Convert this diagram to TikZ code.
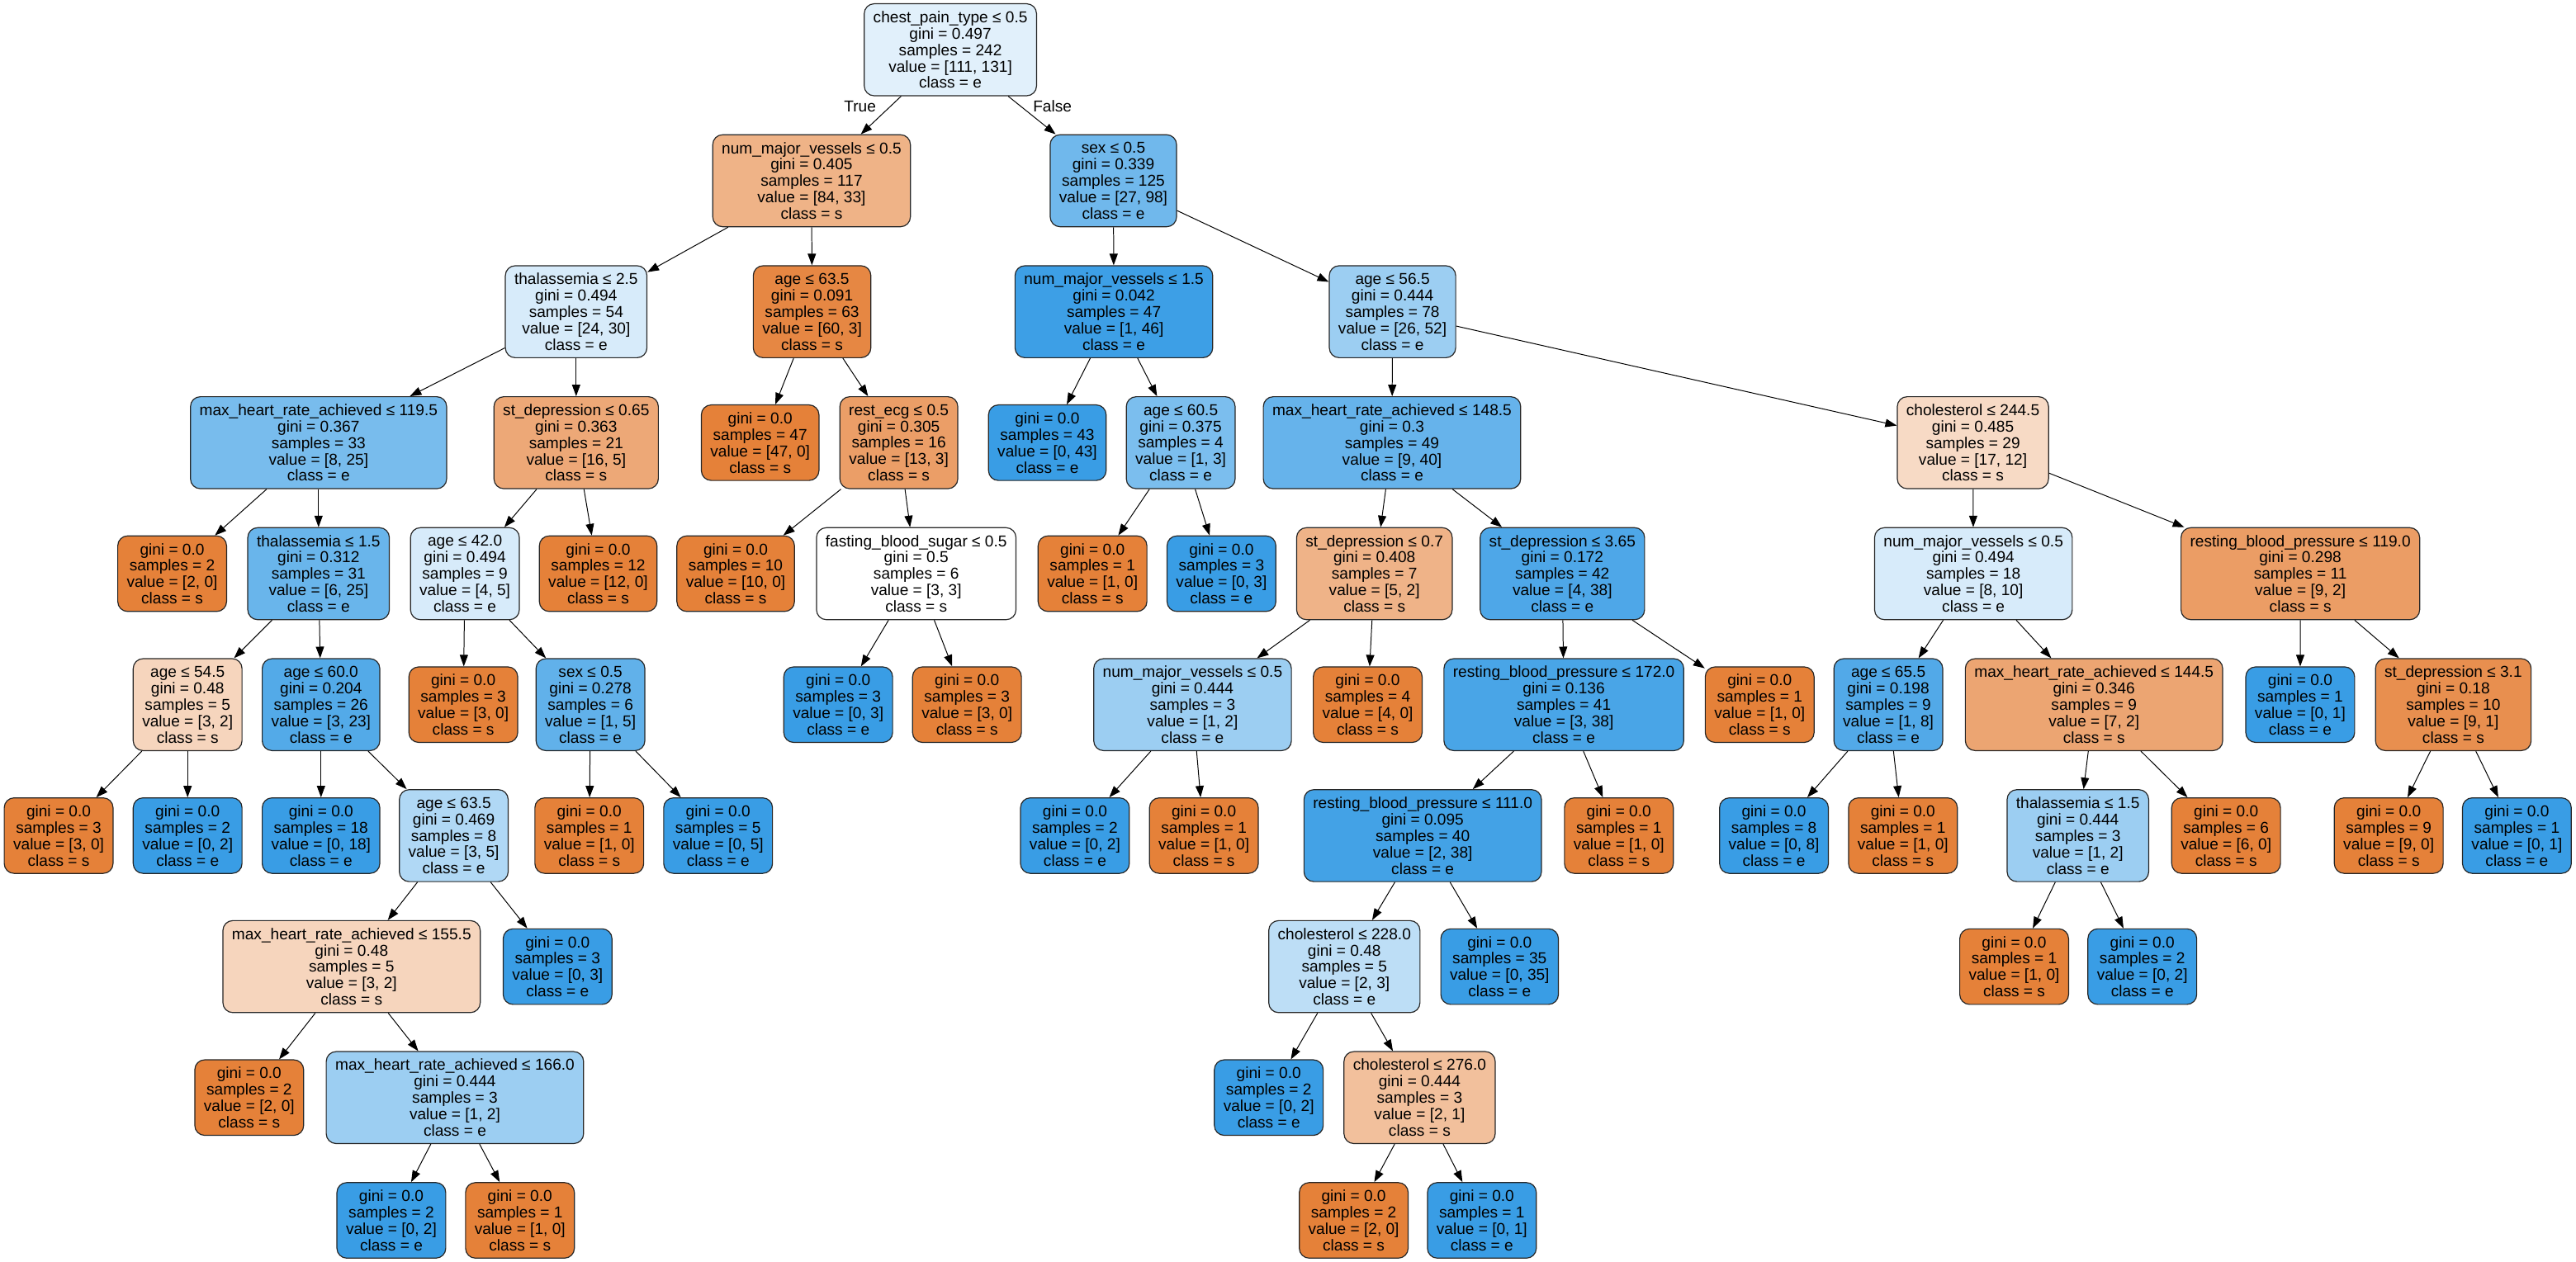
\documentclass[tikz,border=0pt]{standalone}
\usepackage{fontspec}
\setmainfont{Liberation Sans}
\usepackage{tikz}
\usetikzlibrary{arrows.meta}
\definecolor{sclass}{RGB}{229,129,57}
\definecolor{eclass}{RGB}{57,157,229}

\begin{document}
\begin{tikzpicture}[x=1pt, y=-1pt, >={Triangle[length=7pt, width=5pt]},
  every node/.style={font=\fontsize{9.6}{10}\selectfont},
  tree/.style={draw=black!85, line width=0.6pt, rounded corners=6pt, align=center, inner xsep=5.5pt, inner ysep=0pt},
  split/.style={tree, minimum height=56pt},
  leaf/.style={tree, minimum height=46pt, fill=#1class}]
  \useasboundingbox (0,0) rectangle (1568,768.4);

  % Wurzel und Verzweigungen
  \node[split, fill=eclass!15.3] (n1) at (578.5,30.3) {chest\_pain\_type ≤ 0.5\\gini = 0.497\\samples = 242\\value = [111, 131]\\class = e};
  \node[split, fill=sclass!60.7] (n2) at (494,110.05) {num\_major\_vessels ≤ 0.5\\gini = 0.405\\samples = 117\\value = [84, 33]\\class = s};
  \node[split, fill=eclass!72.4] (n3) at (677.7,110.05) {sex ≤ 0.5\\gini = 0.339\\samples = 125\\value = [27, 98]\\class = e};
  \node[split, fill=eclass!20] (n4) at (350.7,189.8) {thalassemia ≤ 2.5\\gini = 0.494\\samples = 54\\value = [24, 30]\\class = e};
  \node[split, fill=sclass!95] (n5) at (494.3,189.8) {age ≤ 63.5\\gini = 0.091\\samples = 63\\value = [60, 3]\\class = s};
  \node[split, fill=eclass!97.8] (n6) at (678,189.8) {num\_major\_vessels ≤ 1.5\\gini = 0.042\\samples = 47\\value = [1, 46]\\class = e};
  \node[split, fill=eclass!50] (n7) at (847.6,189.8) {age ≤ 56.5\\gini = 0.444\\samples = 78\\value = [26, 52]\\class = e};
  \node[split, fill=eclass!68] (n8) at (193.9,269.55) {max\_heart\_rate\_achieved ≤ 119.5\\gini = 0.367\\samples = 33\\value = [8, 25]\\class = e};
  \node[split, fill=sclass!68.8] (n9) at (350.7,269.55) {st\_depression ≤ 0.65\\gini = 0.363\\samples = 21\\value = [16, 5]\\class = s};
  \node[split, fill=sclass!76.9] (n11) at (547.1,269.55) {rest\_ecg ≤ 0.5\\gini = 0.305\\samples = 16\\value = [13, 3]\\class = s};
  \node[split, fill=eclass!66.7] (n13) at (718.7,269.55) {age ≤ 60.5\\gini = 0.375\\samples = 4\\value = [1, 3]\\class = e};
  \node[split, fill=eclass!77.5] (n14) at (847.3,269.55) {max\_heart\_rate\_achieved ≤ 148.5\\gini = 0.3\\samples = 49\\value = [9, 40]\\class = e};
  \node[split, fill=sclass!29.4] (n15) at (1200.9,269.55) {cholesterol ≤ 244.5\\gini = 0.485\\samples = 29\\value = [17, 12]\\class = s};
  \node[split, fill=eclass!76] (n17) at (193.9,349.3) {thalassemia ≤ 1.5\\gini = 0.312\\samples = 31\\value = [6, 25]\\class = e};
  \node[split, fill=eclass!20] (n18) at (283,349.3) {age ≤ 42.0\\gini = 0.494\\samples = 9\\value = [4, 5]\\class = e};
  \node[split, fill=white] (n21) at (557.7,349.3) {fasting\_blood\_sugar ≤ 0.5\\gini = 0.5\\samples = 6\\value = [3, 3]\\class = s};
  \node[split, fill=sclass!60] (n24) at (836.6,349.3) {st\_depression ≤ 0.7\\gini = 0.408\\samples = 7\\value = [5, 2]\\class = s};
  \node[split, fill=eclass!89.5] (n25) at (951,349.3) {st\_depression ≤ 3.65\\gini = 0.172\\samples = 42\\value = [4, 38]\\class = e};
  \node[split, fill=eclass!20] (n26) at (1201.2,349.3) {num\_major\_vessels ≤ 0.5\\gini = 0.494\\samples = 18\\value = [8, 10]\\class = e};
  \node[split, fill=sclass!77.8] (n27) at (1400.2,349.3) {resting\_blood\_pressure ≤ 119.0\\gini = 0.298\\samples = 11\\value = [9, 2]\\class = s};
  \node[split, fill=sclass!33.3] (n28) at (114.2,429.05) {age ≤ 54.5\\gini = 0.48\\samples = 5\\value = [3, 2]\\class = s};
  \node[split, fill=eclass!87] (n29) at (195.4,429.05) {age ≤ 60.0\\gini = 0.204\\samples = 26\\value = [3, 23]\\class = e};
  \node[split, fill=eclass!80] (n31) at (359.4,429.05) {sex ≤ 0.5\\gini = 0.278\\samples = 6\\value = [1, 5]\\class = e};
  \node[split, fill=eclass!50] (n34) at (725.9,429.05) {num\_major\_vessels ≤ 0.5\\gini = 0.444\\samples = 3\\value = [1, 2]\\class = e};
  \node[split, fill=eclass!92.1] (n36) at (951.9,429.05) {resting\_blood\_pressure ≤ 172.0\\gini = 0.136\\samples = 41\\value = [3, 38]\\class = e};
  \node[split, fill=eclass!87.5] (n38) at (1149.4,429.05) {age ≤ 65.5\\gini = 0.198\\samples = 9\\value = [1, 8]\\class = e};
  \node[split, fill=sclass!71.4] (n39) at (1274.6,429.05) {max\_heart\_rate\_achieved ≤ 144.5\\gini = 0.346\\samples = 9\\value = [7, 2]\\class = s};
  \node[split, fill=sclass!88.9] (n41) at (1493.3,429.05) {st\_depression ≤ 3.1\\gini = 0.18\\samples = 10\\value = [9, 1]\\class = s};
  \node[split, fill=eclass!40] (n45) at (276.2,508.8) {age ≤ 63.5\\gini = 0.469\\samples = 8\\value = [3, 5]\\class = e};
  \node[split, fill=eclass!94.7] (n50) at (866,508.8) {resting\_blood\_pressure ≤ 111.0\\gini = 0.095\\samples = 40\\value = [2, 38]\\class = e};
  \node[split, fill=eclass!50] (n54) at (1264.8,508.8) {thalassemia ≤ 1.5\\gini = 0.444\\samples = 3\\value = [1, 2]\\class = e};
  \node[split, fill=sclass!33.3] (n58) at (214,588.55) {max\_heart\_rate\_achieved ≤ 155.5\\gini = 0.48\\samples = 5\\value = [3, 2]\\class = s};
  \node[split, fill=eclass!33.3] (n60) at (818.3,588.55) {cholesterol ≤ 228.0\\gini = 0.48\\samples = 5\\value = [2, 3]\\class = e};
  \node[split, fill=eclass!50] (n65) at (276.9,668.3) {max\_heart\_rate\_achieved ≤ 166.0\\gini = 0.444\\samples = 3\\value = [1, 2]\\class = e};
  \node[split, fill=sclass!50] (n67) at (864.1,668.3) {cholesterol ≤ 276.0\\gini = 0.444\\samples = 3\\value = [2, 1]\\class = s};

  % Blätter
  \foreach \nm/\x/\y/\n/\v/\c in {n10/462.7/269.55/47/{47, 0}/s, n12/637.5/269.55/43/{0, 43}/e,
      n16/104.8/349.3/2/{2, 0}/s, n19/364.1/349.3/12/{12, 0}/s, n20/447.8/349.3/10/{10, 0}/s,
      n22/665/349.3/1/{1, 0}/s, n23/743.5/349.3/3/{0, 3}/e,
      n30/282/429.05/3/{3, 0}/s, n32/510.2/429.05/3/{0, 3}/e, n33/588.6/429.05/3/{3, 0}/s,
      n35/832.5/429.05/4/{4, 0}/s, n37/1071.1/429.05/1/{1, 0}/s, n40/1400.1/429.05/1/{0, 1}/e,
      n42/35.7/508.8/3/{3, 0}/s, n43/114.2/508.8/2/{0, 2}/e, n44/195.4/508.8/18/{0, 18}/e,
      n46/358.7/508.8/1/{1, 0}/s, n47/437.1/508.8/5/{0, 5}/e, n48/654.3/508.8/2/{0, 2}/e,
      n49/732.8/508.8/1/{1, 0}/s, n51/985.4/508.8/1/{1, 0}/s, n52/1079.8/508.8/8/{0, 8}/e,
      n53/1158.3/508.8/1/{1, 0}/s, n55/1355/508.8/6/{6, 0}/s, n56/1454/508.8/9/{9, 0}/s,
      n57/1532/508.8/1/{0, 1}/e,
      n59/339.4/588.55/3/{0, 3}/e, n61/912.8/588.55/35/{0, 35}/e, n62/1226/588.55/1/{1, 0}/s,
      n63/1304/588.55/2/{0, 2}/e,
      n64/151.7/668.3/2/{2, 0}/s, n66/772.3/668.3/2/{0, 2}/e,
      n68/238.2/743.05/2/{0, 2}/e, n69/316.5/743.05/1/{1, 0}/s, n70/824/743.05/2/{2, 0}/s,
      n71/902/743.05/1/{0, 1}/e}
    \node[leaf=\c] (\nm) at (\x,\y) {gini = 0.0\\samples = \n\\value = [\v]\\class = \c};

  % Kanten
  \foreach \a/\b in {n1/n2, n1/n3, n2/n4, n2/n5, n3/n6, n3/n7, n4/n8, n4/n9, n5/n10, n5/n11,
      n6/n12, n6/n13, n7/n14, n7/n15, n8/n16, n8/n17, n9/n18, n9/n19, n11/n20, n11/n21,
      n13/n22, n13/n23, n14/n24, n14/n25, n15/n26, n15/n27, n17/n28, n17/n29, n18/n30, n18/n31,
      n21/n32, n21/n33, n24/n34, n24/n35, n25/n36, n25/n37, n26/n38, n26/n39, n27/n40, n27/n41,
      n28/n42, n28/n43, n29/n44, n29/n45, n31/n46, n31/n47, n34/n48, n34/n49, n36/n50, n36/n51,
      n38/n52, n38/n53, n39/n54, n39/n55, n41/n56, n41/n57, n45/n58, n45/n59, n50/n60, n50/n61,
      n54/n62, n54/n63, n58/n64, n58/n65, n60/n66, n60/n67, n65/n68, n65/n69, n67/n70, n67/n71}
    \draw[->, line width=0.5pt] (\a) -- (\b);

  \node (lblT) at (523.5,64.9) {True};
  \node (lblF) at (640.6,64.9) {False};
\end{tikzpicture}
\end{document}
